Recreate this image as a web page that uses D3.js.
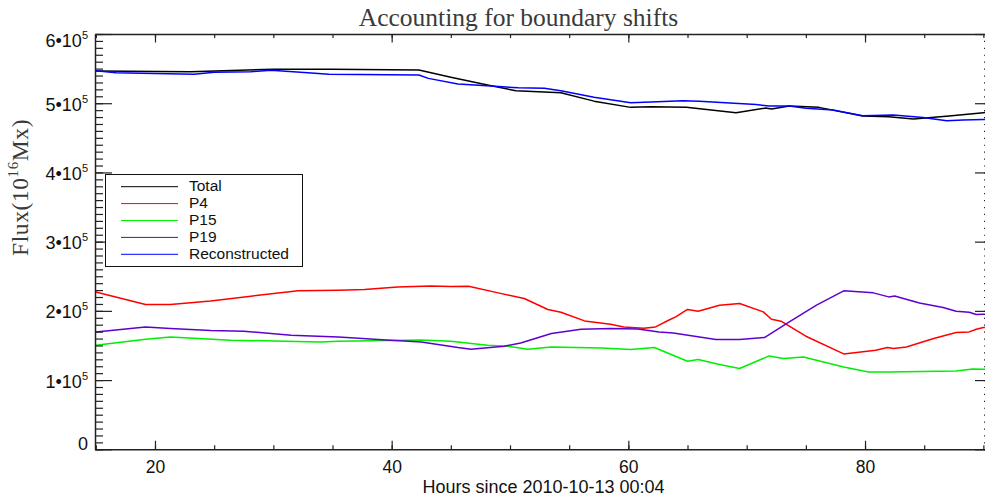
<!DOCTYPE html>
<html>
<head>
<meta charset="utf-8">
<script src="https://cdn.jsdelivr.net/npm/d3@7"></script>
<style>
  html, body { margin: 0; padding: 0; background: #fff; }
  svg { display: block; }
</style>
</head>
<body>
<svg id="chart" width="985" height="500"></svg>
<script>
// flux values in units of 1e5 (10^16 Mx)
const totalPts = [
  [15, 5.465], [23.0, 5.455], [30.0, 5.49], [34.9, 5.49], [42.3, 5.48], [45.0, 5.374],
  [48.1, 5.262], [50.5, 5.18], [54.3, 5.151], [57.1, 5.03], [60.2, 4.94], [61.9, 4.95],
  [64.9, 4.94], [69.1, 4.862], [71.6, 4.93], [72.1, 4.916], [73.6, 4.96], [76.1, 4.94],
  [79.8, 4.814], [82.0, 4.804], [84.1, 4.771], [87.1, 4.814], [90.0, 4.862], [90.7, 4.875]
];
const p4Pts = [
  [15, 2.274], [19.2, 2.092], [21.3, 2.092], [24.7, 2.144], [28.1, 2.212], [32.1, 2.289],
  [35.5, 2.299], [37.7, 2.309], [40.5, 2.346], [43.3, 2.361], [45.0, 2.352], [46.5, 2.357],
  [49.0, 2.26], [51.2, 2.179], [53.2, 2.02], [54.3, 1.981], [56.3, 1.855], [58.5, 1.807],
  [59.6, 1.768], [61.3, 1.749], [62.3, 1.768], [63.4, 1.865], [64.0, 1.913], [65.0, 2.02],
  [65.9, 1.995], [67.7, 2.082], [69.4, 2.106], [71.4, 1.985], [72.1, 1.879], [72.9, 1.851],
  [75.0, 1.634], [78.2, 1.378], [80.9, 1.431], [81.9, 1.47], [82.4, 1.456], [83.5, 1.479],
  [85.8, 1.6], [87.7, 1.687], [88.8, 1.696], [89.4, 1.735], [90.0, 1.759], [90.7, 1.765]
];
const p15Pts = [
  [15, 1.504], [19.2, 1.59], [21.3, 1.624], [26.4, 1.576], [30.0, 1.566], [34.0, 1.551],
  [35.5, 1.561], [42.5, 1.58], [45.0, 1.561], [48.1, 1.504], [49.8, 1.489], [51.5, 1.446],
  [53.5, 1.479], [57.7, 1.465], [60.2, 1.441], [62.2, 1.47], [65.0, 1.272], [65.9, 1.297],
  [67.7, 1.224], [69.4, 1.167], [71.9, 1.349], [73.1, 1.311], [74.8, 1.334], [78.2, 1.19],
  [80.3, 1.118], [82.0, 1.118], [87.7, 1.132], [89.1, 1.161], [90.0, 1.157], [90.7, 1.157]
];
const p19Pts = [
  [15, 1.696], [19.2, 1.768], [21.3, 1.745], [24.7, 1.716], [27.5, 1.706], [31.5, 1.648],
  [35.5, 1.624], [39.9, 1.576], [42.5, 1.551], [45.6, 1.47], [46.7, 1.446], [49.5, 1.489],
  [50.9, 1.537], [53.5, 1.673], [56.0, 1.735], [58.5, 1.745], [60.8, 1.739], [62.6, 1.696],
  [63.8, 1.681], [67.4, 1.586], [69.4, 1.586], [71.5, 1.615], [73.6, 1.84], [75.9, 2.082],
  [78.2, 2.289], [80.7, 2.26], [82.0, 2.202], [82.5, 2.216], [84.6, 2.115], [86.6, 2.049],
  [87.7, 1.995], [88.8, 1.981], [89.4, 1.947], [90.0, 1.952], [90.7, 1.952]
];
const reconPts = [
  [15, 5.469], [16.7, 5.44], [23.3, 5.417], [25.0, 5.446], [28.1, 5.455], [29.8, 5.475],
  [32.3, 5.446], [34.7, 5.417], [42.3, 5.407], [43.1, 5.359], [45.6, 5.277], [48.4, 5.248],
  [50.7, 5.223], [52.9, 5.215], [54.3, 5.18], [57.1, 5.085], [60.2, 5.007], [61.9, 5.017],
  [64.6, 5.035], [66.0, 5.027], [70.8, 4.983], [71.9, 4.959], [73.6, 4.959], [75.0, 4.926],
  [77.3, 4.901], [79.8, 4.819], [82.4, 4.829], [84.9, 4.795], [86.9, 4.746], [88.3, 4.756],
  [90.0, 4.766], [90.7, 4.766]
];

const seriesNames = ["Total", "P4", "P15", "P19", "Reconstructed"];
const seriesColors = ["#000000", "#ff0000", "#00ee00", "#6000d0", "#0000ff"];
const seriesData = [totalPts, p4Pts, p15Pts, p19Pts, reconPts];

const xMajorTicks = [20, 40, 60, 80];
const xMinorTicks = d3.range(15, 91, 5);
const yMajorTicks = [0, 1, 2, 3, 4, 5, 6];
const yMinorTicks = d3.range(0, 60.5, 1).map((d) => d / 10);

const titleText = "Accounting for boundary shifts";
const xLabelText = "Hours since 2010-10-13 00:04";

const plotLeft = 95, plotRight = 992, plotTop = 34, plotBottom = 449.3;
const axisColor = "#222";
const sans = "'Liberation Sans', Arial, Helvetica, sans-serif";
const serif = "'Liberation Serif', 'Times New Roman', serif";

const svg = d3.select("#chart");

const x = d3.scaleLinear().domain([14.93, 90.73]).range([plotLeft, plotRight]);
const y = d3.scaleLinear().domain([0, 6]).range([plotBottom, plotTop]);

// data lines first, axes on top
const plot = svg.append("g");
const line = d3.line().x((d) => x(d[0])).y((d) => y(d[1]));

seriesData.forEach((pts, i) => {
  plot.append("path")
    .datum(pts)
    .attr("fill", "none")
    .attr("stroke", seriesColors[i])
    .attr("stroke-width", 1.5)
    .attr("stroke-linejoin", "round")
    .attr("d", line);
});

function styleAxis(g) {
  g.selectAll("path.domain").attr("stroke", axisColor).attr("stroke-width", 1.5);
  g.selectAll(".tick line").attr("stroke", axisColor).attr("stroke-width", 1.2);
}

// bottom axis
svg.append("g")
  .attr("transform", `translate(0,${plotBottom})`)
  .call(d3.axisBottom(x).tickValues(xMinorTicks).tickSize(-4).tickSizeOuter(0).tickFormat(""))
  .call(styleAxis);
const xAxisG = svg.append("g")
  .attr("transform", `translate(0,${plotBottom})`)
  .call(d3.axisBottom(x).tickValues(xMajorTicks).tickSize(-8.5).tickSizeOuter(0))
  .call(styleAxis);
xAxisG.select("path.domain").remove();
xAxisG.selectAll(".tick text")
  .attr("y", 24.2)
  .attr("dy", null)
  .attr("fill", "#111")
  .attr("font-family", sans)
  .attr("font-size", "17.5px");

// top axis
svg.append("g")
  .attr("transform", `translate(0,${plotTop})`)
  .call(d3.axisTop(x).tickValues(xMinorTicks).tickSize(-4).tickSizeOuter(0).tickFormat(""))
  .call(styleAxis);
const xTopG = svg.append("g")
  .attr("transform", `translate(0,${plotTop})`)
  .call(d3.axisTop(x).tickValues(xMajorTicks).tickSize(-8.5).tickSizeOuter(0).tickFormat(""))
  .call(styleAxis);
xTopG.select("path.domain").remove();

// left axis
svg.append("g")
  .attr("transform", `translate(${plotLeft},0)`)
  .call(d3.axisLeft(y).tickValues(yMinorTicks).tickSize(-8).tickSizeOuter(0).tickFormat(""))
  .call(styleAxis);
const yAxisG = svg.append("g")
  .attr("transform", `translate(${plotLeft},0)`)
  .call(d3.axisLeft(y).tickValues(yMajorTicks).tickSize(-17).tickSizeOuter(0).tickFormat(""))
  .call(styleAxis);
yAxisG.select("path.domain").remove();

yAxisG.selectAll(".tick").each(function (d) {
  const offset = d === 6 ? 12.5 : d === 0 ? 0.3 : 7;
  const t = d3.select(this).append("text")
    .attr("x", -7)
    .attr("y", offset)
    .attr("text-anchor", "end")
    .attr("fill", "#111")
    .attr("font-family", sans)
    .attr("font-size", "18px");
  if (d === 0) {
    t.text("0");
  } else {
    t.append("tspan").text(`${d}\u202210`);
    t.append("tspan").attr("font-size", "11px").attr("dy", -8).text("5");
  }
});

// right axis
svg.append("g")
  .attr("transform", `translate(${plotRight},0)`)
  .call(d3.axisRight(y).tickValues(yMinorTicks).tickSize(-8).tickSizeOuter(0).tickFormat(""))
  .call(styleAxis);
const yRightG = svg.append("g")
  .attr("transform", `translate(${plotRight},0)`)
  .call(d3.axisRight(y).tickValues(yMajorTicks).tickSize(-17).tickSizeOuter(0).tickFormat(""))
  .call(styleAxis);
yRightG.select("path.domain").remove();

// title
svg.append("text")
  .attr("x", 518.5)
  .attr("y", 26)
  .attr("text-anchor", "middle")
  .attr("fill", "#3a3a3a")
  .attr("font-family", serif)
  .attr("font-size", "25.5px")
  .text(titleText);

// x label
svg.append("text")
  .attr("x", 543.5)
  .attr("y", 492.7)
  .attr("text-anchor", "middle")
  .attr("fill", "#111")
  .attr("font-family", sans)
  .attr("font-size", "18px")
  .text(xLabelText);

// y label: Flux(10^16 Mx)
const yLabel = svg.append("text")
  .attr("transform", "translate(28,256) rotate(-90)")
  .attr("text-anchor", "start")
  .attr("fill", "#3a3a3a")
  .attr("font-family", serif)
  .attr("font-size", "23.5px")
  .attr("letter-spacing", "0.6px");
yLabel.append("tspan").text("Flux(10");
yLabel.append("tspan").attr("font-size", "15px").attr("dy", -10).text("16");
yLabel.append("tspan").attr("dy", 10).text("Mx)");

// legend
const legend = svg.append("g");
legend.append("rect")
  .attr("x", 105.5).attr("y", 174.5)
  .attr("width", 197).attr("height", 92)
  .attr("fill", "#fff")
  .attr("stroke", "#111")
  .attr("stroke-width", 1);

seriesNames.forEach((name, i) => {
  const ly = 186.7 + i * 16.9;
  legend.append("line")
    .attr("x1", 121).attr("x2", 178)
    .attr("y1", ly).attr("y2", ly)
    .attr("stroke", seriesColors[i])
    .attr("stroke-width", 1);
  legend.append("text")
    .attr("x", 189)
    .attr("y", ly + 4.5)
    .attr("fill", "#111")
    .attr("font-family", sans)
    .attr("font-size", "15.5px")
    .text(name);
});
</script>
</body>
</html>
